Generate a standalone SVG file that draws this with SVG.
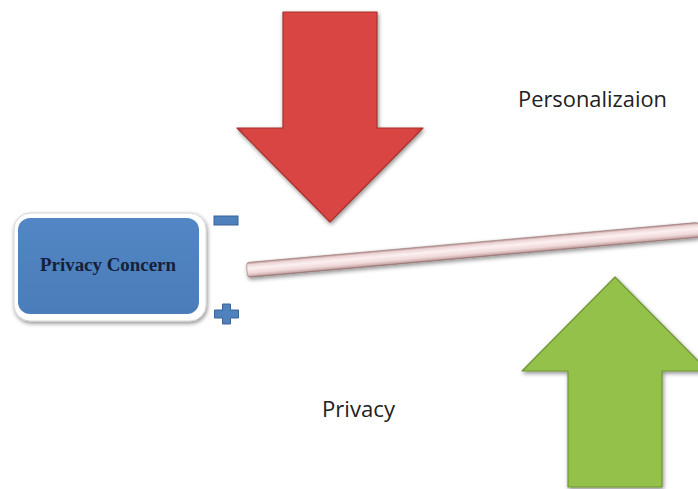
<svg xmlns="http://www.w3.org/2000/svg" width="698" height="489" viewBox="0 0 698 489">
  <defs>
    <style>
      .label { font-family: "Open Sans", "Liberation Sans", sans-serif; font-size: 22px; fill: #222222; }
      .boxlabel { font-family: "Liberation Serif", serif; font-weight: bold; font-size: 18px; fill: #15203a; }
      .sign { fill: #4f81bd; stroke: #3a6396; stroke-width: 1; }
    </style>
    <linearGradient id="redFill" x1="0" y1="0" x2="1" y2="0">
      <stop offset="0" stop-color="#c53b37"/>
      <stop offset="0.04" stop-color="#d94443"/>
      <stop offset="0.96" stop-color="#d94443"/>
      <stop offset="1" stop-color="#bd3632"/>
    </linearGradient>
    <linearGradient id="greenFill" x1="0" y1="0" x2="1" y2="0">
      <stop offset="0" stop-color="#86b23f"/>
      <stop offset="0.04" stop-color="#94c149"/>
      <stop offset="0.96" stop-color="#94c149"/>
      <stop offset="1" stop-color="#83ad3d"/>
    </linearGradient>
    <linearGradient id="barFill" x1="0" y1="0" x2="0" y2="1">
      <stop offset="0" stop-color="#b08b8b"/>
      <stop offset="0.15" stop-color="#ecd3d4"/>
      <stop offset="0.4" stop-color="#fcf0f1"/>
      <stop offset="0.72" stop-color="#f0d8d9"/>
      <stop offset="0.9" stop-color="#cfaeaf"/>
      <stop offset="1" stop-color="#8f6d6d"/>
    </linearGradient>
    <linearGradient id="blueFill" x1="0" y1="0" x2="0" y2="1">
      <stop offset="0" stop-color="#5286c4"/>
      <stop offset="1" stop-color="#4a7db9"/>
    </linearGradient>
    <filter id="shadow" x="-20%" y="-20%" width="140%" height="150%">
      <feGaussianBlur in="SourceAlpha" stdDeviation="2"/>
      <feOffset dx="1" dy="2" result="b"/>
      <feComponentTransfer><feFuncA type="linear" slope="0.45"/></feComponentTransfer>
      <feMerge><feMergeNode/><feMergeNode in="SourceGraphic"/></feMerge>
    </filter>
  </defs>

  <rect width="698" height="489" fill="#ffffff"/>

  <!-- downward push: personalization pressure -->
  <g id="arrow-down" filter="url(#shadow)">
    <polygon points="283,12 377,12 377,128 423,128 330,222 237,128 283,128" fill="url(#redFill)" stroke="#a8312c" stroke-width="1.2" stroke-linejoin="round"/>
  </g>

  <!-- upward push: privacy pressure -->
  <g id="arrow-up" filter="url(#shadow)">
    <polygon points="615,277 708,371 662,371 662,487 568,487 568,371 522,371" fill="url(#greenFill)" stroke="#6f9535" stroke-width="1.2" stroke-linejoin="round"/>
  </g>

  <!-- the balance beam -->
  <g id="beam" filter="url(#shadow)">
    <g transform="rotate(-5.08 247 270)">
      <rect x="247" y="262.5" width="454" height="15" rx="3" fill="url(#barFill)" stroke="#9b7a7a" stroke-width="0.6"/>
    </g>
  </g>

  <!-- Privacy Concern node -->
  <g id="privacy-concern">
    <rect x="14" y="213" width="192" height="108" rx="16" fill="#ffffff" stroke="#d5d5d5" stroke-width="1" filter="url(#shadow)"/>
    <rect x="18" y="218" width="181" height="96" rx="12" fill="url(#blueFill)"/>
    <text class="boxlabel" x="108" y="271" text-anchor="middle" textLength="136" lengthAdjust="spacingAndGlyphs">Privacy Concern</text>
  </g>

  <!-- sign markers -->
  <g id="minus">
    <rect class="sign" x="214" y="216" width="24" height="9"/>
  </g>
  <g id="plus">
    <path class="sign" d="M222.5,304 h8 v6 h8 v8 h-8 v6 h-8 v-6 h-8 v-8 h8 z"/>
  </g>

  <!-- labels -->
  <g id="personalization">
    <text class="label" x="518" y="107" textLength="149" lengthAdjust="spacingAndGlyphs">Personalizaion</text>
  </g>
  <g id="privacy">
    <text class="label" x="322" y="417" textLength="73" lengthAdjust="spacingAndGlyphs">Privacy</text>
  </g>
</svg>
